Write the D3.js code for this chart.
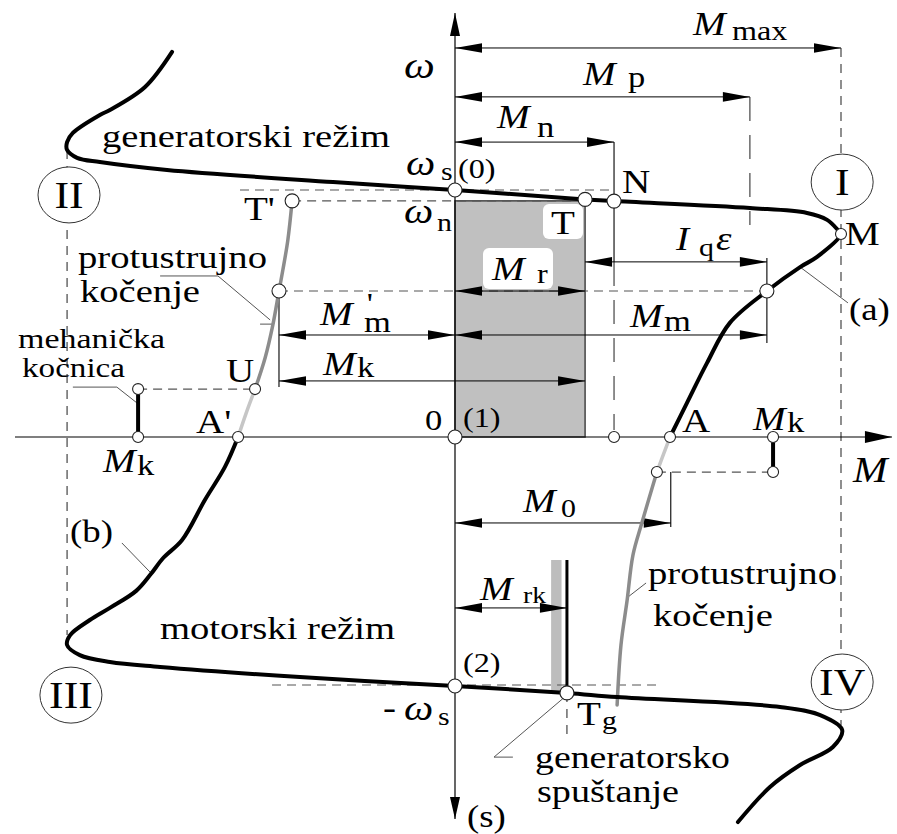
<!DOCTYPE html>
<html lang="hr">
<head>
<meta charset="utf-8">
<title>Mehaničke karakteristike</title>
<style>
  body { margin: 0; padding: 0; background: #fff; }
  svg { display: block; background: #fff; }
</style>
<script src="https://cdn.jsdelivr.net/npm/d3@7"></script>
</head>
<body>
<div id="root"></div>
<script>
// M in % of Mmax, w in % of ws
var curveA = [[-73.3,155.9],[-80.3,141.7],[-89.4,132.4],[-92.0,130.4],[-99.0,123.1],[-100.5,119.4],
  [-100.5,116.2],[-97.9,113.0],[-92.0,111.3],[-74.6,108.1],[-31.6,103.2],[0,100],[33.7,96.2],
  [41.2,95.5],[76.4,92.7],[91.2,90.7],[96.4,87.9],[99.2,83.8],[100,82.2],[93.8,72.9],[89.4,68.8],
  [80.8,59.1],[71.2,46.2],[65.3,30.0],[60.1,13.8],[55.7,0]];
var curveALight = [[55.7,0],[54.0,-7],[52.3,-14.2]];
var curveAGray = [[52.3,-14.2],[48.4,-34.8],[46.1,-47.8],[44.6,-66.0],[43.0,-84.2],[42.0,-108.5]];
var curveBGray = [[-42.2,95.6],[-43.3,79.8],[-44.6,67.6],[-45.6,59.1],[-47.2,45.3],[-49.2,32.0],[-51.8,19.4]];
var curveBLight = [[-51.8,19.4],[-54.1,9.7],[-56.2,0]];
var curveB = [[-56.2,0],[-59.6,-12.1],[-64.8,-25.5],[-70.7,-41.7],[-75.6,-49.0],[-78.8,-55.5],
  [-82.6,-62.3],[-89.4,-69.2],[-94.6,-74.1],[-99.7,-80.2],[-100.5,-84.2],[-97.2,-88.3],[-89.4,-91.1],
  [-76.4,-93.1],[-40.2,-97.2],[0,-100.8],[29.0,-103.6],[42.0,-105.3],[84.2,-109.3],[94.6,-112.6],
  [100.3,-118.6],[97.9,-125.5],[89.4,-132.8],[81.6,-141.7],[73.3,-155.9]];

var bigPoints = [[0,100],[0,0],[0,-100.8],[33.7,96.2],[41.2,95.5],[-42.2,95.6],[-45.6,59.1],[80.8,59.1],[29.0,-103.6]];
var smallPoints = [[100,82.2],[-51.8,19.4],[-56.2,0],[55.7,0],[41.2,0],[52.3,-14.2],[82.4,0],[82.4,-14.2],[-82.1,0],[-82.1,19.4]];

// dimension arrows: [from M, to M, at w]
var dims = [[0,100,157.5],[0,76.4,137.7],[0,41.2,119.4],[33.7,80.8,70.9],[0,33.7,59.1],
  [-45.6,0,41.3],[0,80.8,41.3],[-45.6,33.7,22.7],[0,55.9,-34.8],[0,29.0,-69.2]];

// dashed guides: horizontal [w, M1, M2], vertical [M, w1, w2]
var hDashed = [[100,-55.7,40.7],[95.6,-42.2,33.7],[59.1,-45.6,80.8],[19.4,-82.1,-51.8],[-14.2,52.3,82.4],[-100.4,-47.4,53.0]];
var vDashed = [[-100.5,116.2,-80.2],[100,157.5,-116.6],[29.0,-103.6,-121.5]];
var vLongDashed = [[76.4,137.7,85.8],[41.2,70.9,2.8]];
var vThin = [[41.2,119.4,70.9],[80.8,72.5,38.1],[-45.6,59.1,20.2],[55.9,-14.2,-36.4]];
var brakes = [[-82.1,0,19.4],[82.4,0,-14.2]];
var mrkBar = [24.9,27.6,-49.8,-103.3];
var mrkLine = [29.0,-49.8,-103.6];
var loadRect = [0,33.7,0,95.6];

var leaders = [
  [[-76.4,65.2],[-61.4,65.2],[-47.9,47.4]],
  [[-50.5,45.7],[-47.4,45.7]],
  [[-99.0,20.2],[-87.6,20.2],[-82.4,13.8]],
  [[-86.3,-42.9],[-79.0,-54.7]],
  [[89.4,68.8],[101.8,54.3]],
  [[44.8,-64.8],[49.5,-59.1]],
  [[29.0,-104.5],[10.1,-129.6],[15.0,-129.6]]
];
var regions = [["I",100.3,103.2],["II",-100,98.0],["III",-99.5,-104.5],["IV",100.3,-99.2]];

var W = 897, H = 834;
var SERIF = "'Liberation Serif', 'Times New Roman', serif";
var SX = 1.15;

var svg = d3.select("#root").append("svg").attr("width", W).attr("height", H);
var x = d3.scaleLinear().domain([-100, 100]).range([69, 841]);
var y = d3.scaleLinear().domain([-100, 100]).range([684, 190]);

var line = d3.line().x(function(d) { return x(d[0]); }).y(function(d) { return y(d[1]); })
  .curve(d3.curveCatmullRom.alpha(0.5));
var straight = d3.line().x(function(d) { return x(d[0]); }).y(function(d) { return y(d[1]); });

// grey load rectangle
svg.append("rect")
  .attr("x", x(loadRect[0])).attr("y", y(loadRect[3]))
  .attr("width", x(loadRect[1]) - x(loadRect[0])).attr("height", y(loadRect[2]) - y(loadRect[3]))
  .attr("fill", "#c0c0c0").attr("stroke", "#444").attr("stroke-width", 1.5);

svg.append("rect")
  .attr("x", x(mrkBar[0])).attr("y", y(mrkBar[2]))
  .attr("width", x(mrkBar[1]) - x(mrkBar[0])).attr("height", y(mrkBar[3]) - y(mrkBar[2]))
  .attr("fill", "#bdbdbd");

// dashed guide lines
svg.selectAll(".hd").data(hDashed).enter().append("line")
  .attr("x1", function(d) { return x(d[1]); }).attr("x2", function(d) { return x(d[2]); })
  .attr("y1", function(d) { return y(d[0]); }).attr("y2", function(d) { return y(d[0]); })
  .attr("stroke", "#555").attr("stroke-width", 1.2).attr("stroke-dasharray", "9,6");
svg.selectAll(".vd").data(vDashed).enter().append("line")
  .attr("x1", function(d) { return x(d[0]); }).attr("x2", function(d) { return x(d[0]); })
  .attr("y1", function(d) { return y(d[1]); }).attr("y2", function(d) { return y(d[2]); })
  .attr("stroke", "#333").attr("stroke-width", 1.1).attr("stroke-dasharray", "9,7");
svg.selectAll(".vld").data(vLongDashed).enter().append("line")
  .attr("x1", function(d) { return x(d[0]); }).attr("x2", function(d) { return x(d[0]); })
  .attr("y1", function(d) { return y(d[1]); }).attr("y2", function(d) { return y(d[2]); })
  .attr("stroke", "#333").attr("stroke-width", 1.1).attr("stroke-dasharray", "24,14");
svg.selectAll(".vt").data(vThin).enter().append("line")
  .attr("x1", function(d) { return x(d[0]); }).attr("x2", function(d) { return x(d[0]); })
  .attr("y1", function(d) { return y(d[1]); }).attr("y2", function(d) { return y(d[2]); })
  .attr("stroke", "#000").attr("stroke-width", 1.1);

// axes
function head(xt, yt, dx, dy, len, hw) {
  var bx = xt - dx * len, by = yt - dy * len;
  var px = -dy * hw, py = dx * hw;
  svg.append("polygon")
    .attr("points", [[xt, yt], [bx + px, by + py], [bx - px, by - py]].map(function(p) { return p.join(","); }).join(" "))
    .attr("fill", "#000");
}
svg.append("line").attr("x1", x(0)).attr("x2", x(0)).attr("y1", y(171.7)).attr("y2", y(-154.7))
  .attr("stroke", "#000").attr("stroke-width", 1.2);
svg.append("line").attr("x1", x(-114)).attr("x2", x(113.2)).attr("y1", y(0)).attr("y2", y(0))
  .attr("stroke", "#000").attr("stroke-width", 1.2);
head(x(0), y(171.7), 0, -1, 23, 5);
head(x(0), y(-154.7), 0, 1, 22, 5);
head(x(113.2), y(0), 1, 0, 27, 6);

// dimension arrows
dims.forEach(function(d) {
  var x1 = x(d[0]), x2 = x(d[1]), yy = y(d[2]);
  svg.append("line").attr("x1", x1).attr("x2", x2).attr("y1", yy).attr("y2", yy)
    .attr("stroke", "#000").attr("stroke-width", 1);
  head(x1, yy, -1, 0, 27, 4.8);
  head(x2, yy, 1, 0, 27, 4.8);
});

// leader lines
svg.selectAll(".ld").data(leaders).enter().append("path")
  .attr("d", straight).attr("fill", "none").attr("stroke", "#555").attr("stroke-width", 1);

// characteristics
function curve(data, color, w) {
  svg.append("path").datum(data).attr("d", line).attr("fill", "none")
    .attr("stroke", color).attr("stroke-width", w).attr("stroke-linecap", "round").attr("stroke-linejoin", "round");
}
curve(curveALight, "#c6c6c6", 3.5);
curve(curveAGray, "#8c8c8c", 3.5);
curve(curveBGray, "#8c8c8c", 3.5);
curve(curveBLight, "#c6c6c6", 3.5);
curve(curveA, "#000", 4);
curve(curveB, "#000", 4);

// brakes and Mrk line
svg.selectAll(".br").data(brakes).enter().append("line")
  .attr("x1", function(d) { return x(d[0]); }).attr("x2", function(d) { return x(d[0]); })
  .attr("y1", function(d) { return y(d[1]); }).attr("y2", function(d) { return y(d[2]); })
  .attr("stroke", "#000").attr("stroke-width", 4);
svg.append("line").attr("x1", x(mrkLine[0])).attr("x2", x(mrkLine[0]))
  .attr("y1", y(mrkLine[1])).attr("y2", y(mrkLine[2])).attr("stroke", "#000").attr("stroke-width", 3);

// region ellipses
svg.selectAll(".reg").data(regions).enter().append("ellipse")
  .attr("cx", function(d) { return x(d[1]); }).attr("cy", function(d) { return y(d[2]); })
  .attr("rx", 31).attr("ry", 28).attr("fill", "#fff").attr("stroke", "#333").attr("stroke-width", 1);

// white label boxes
svg.append("rect").attr("x", 543).attr("y", 204).attr("width", 40).attr("height", 35).attr("rx", 6).attr("fill", "#fff");
svg.append("rect").attr("x", 483).attr("y", 248).attr("width", 70).attr("height", 41).attr("rx", 6).attr("fill", "#fff");

// points
svg.selectAll(".bp").data(bigPoints).enter().append("circle")
  .attr("cx", function(d) { return x(d[0]); }).attr("cy", function(d) { return y(d[1]); })
  .attr("r", 7).attr("fill", "#fff").attr("stroke", "#222").attr("stroke-width", 1.1);
svg.selectAll(".sp").data(smallPoints).enter().append("circle")
  .attr("cx", function(d) { return x(d[0]); }).attr("cy", function(d) { return y(d[1]); })
  .attr("r", 5.5).attr("fill", "#fff").attr("stroke", "#222").attr("stroke-width", 1.1);

// text
function txt(s, px, py, size, it, len, anchor) {
  var t = svg.append("text")
    .attr("font-family", SERIF).attr("font-size", size)
    .attr("font-style", it ? "italic" : "normal")
    .attr("text-anchor", anchor || "start").attr("fill", "#000").text(s);
  if (len) t.attr("transform", "translate(" + px + "," + py + ")").attr("textLength", len).attr("lengthAdjust", "spacingAndGlyphs");
  else t.attr("transform", "translate(" + px + "," + py + ") scale(" + SX + ",1)");
  return t;
}

txt("generatorski režim", 102, 147, 31, false, 288);
txt("protustrujno", 78, 268, 31, false, 189);
txt("kočenje", 80, 302, 31, false, 120);
txt("mehanička", 18, 348, 27, false, 147);
txt("kočnica", 22, 377, 27, false, 103);
txt("motorski režim", 160, 639, 31, false, 235);
txt("protustrujno", 648, 584, 31, false, 189);
txt("kočenje", 653, 626, 31, false, 120);
txt("generatorsko", 535, 768, 31, false, 195);
txt("spuštanje", 537, 802, 31, false, 142);

txt("ω", 404, 78, 38, true);
txt("M", 853, 482, 36, true);
txt("M", 693, 35, 34, true); txt("max", 732, 40, 28);
txt("M", 583, 85, 34, true); txt("p", 628, 87, 30);
txt("M", 497, 128, 34, true); txt("n", 537, 137, 30);
txt("ω", 406, 175, 36, true); txt("s", 441, 180, 26); txt("(0)", 458, 178, 28);
txt("ω", 404, 223, 36, true); txt("n", 437, 231, 26);
txt("N", 622, 193, 34);
txt("T'", 244, 220, 34);
txt("T", 551, 234, 34);
txt("M", 492, 280, 34, true); txt("r", 537, 283, 28);
txt("M", 845, 245, 34);
txt("I", 676, 250, 34, true); txt("q", 699, 256, 26); txt("ε", 716, 250, 34, true);
txt("M", 630, 327, 34, true); txt("m", 664, 331, 30);
// M'm: prime sits above the subscript, kept in the same text element
txt("M", 320, 325, 34, true);
var mSub = txt("", 364, 332, 30);
mSub.append("tspan").text("m");
mSub.append("tspan").attr("dx", -21).attr("dy", -19).text("'");
txt("M", 323, 375, 34, true); txt("k", 357, 377, 30);
txt("M", 103, 472, 34, true); txt("k", 137, 475, 30);
txt("M", 753, 430, 34, true); txt("k", 787, 432, 30);
txt("U", 226, 382, 34);
txt("A'", 196, 433, 34);
txt("A", 682, 432, 34);
txt("0", 425, 430, 30);
txt("(1)", 463, 427, 28);
txt("M", 523, 512, 34, true); txt("0", 561, 517, 26);
txt("M", 480, 600, 34, true); txt("rk", 523, 603, 24);
txt("(2)", 463, 672, 28);
txt("-", 383, 719, 34); txt("ω", 404, 720, 36, true); txt("s", 438, 725, 26);
txt("T", 577, 725, 34); txt("g", 602, 729, 26);
txt("(s)", 467, 827, 32);
txt("(a)", 849, 320, 32);
txt("(b)", 70, 542, 32);
regions.forEach(function(d) {
  txt(d[0], x(d[1]), y(d[2]) + 13, 38, false, null, "middle");
});
</script>
</body>
</html>
